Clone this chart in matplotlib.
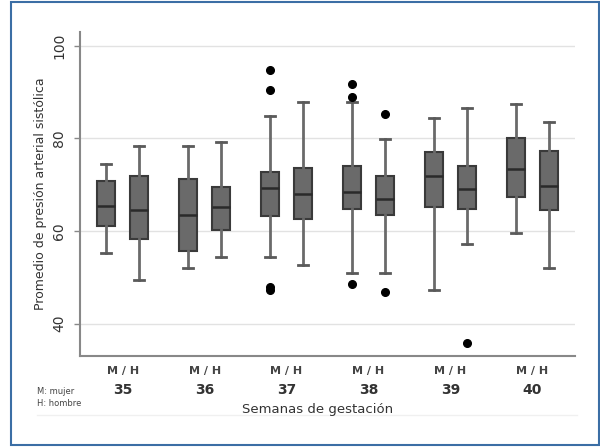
import matplotlib
matplotlib.use("Agg")
import matplotlib.pyplot as plt
from matplotlib.patches import Rectangle
from matplotlib.lines import Line2D

# ---- data ----
weeks = ["35", "36", "37", "38", "39", "40"]
sexes = ["M", "H"]
# order: 35M, 35H, 36M, 36H, ...
medians = [65.4, 64.6, 63.4, 65.1, 69.3, 67.9, 68.4, 67.0, 71.8, 69.0, 73.4, 69.7]
q1      = [61.0, 58.3, 55.6, 60.3, 63.2, 62.7, 64.7, 63.4, 65.1, 64.8, 67.4, 64.5]
q3      = [70.9, 71.8, 71.3, 69.5, 72.7, 73.6, 74.1, 71.9, 77.1, 74.1, 80.1, 77.3]
whislo  = [55.2, 49.5, 52.0, 54.4, 54.4, 52.7, 51.0, 50.9, 47.2, 57.1, 59.6, 52.0]
whishi  = [74.4, 78.4, 78.4, 79.3, 84.9, 87.9, 87.9, 79.8, 84.5, 86.6, 87.4, 83.6]
outliers = [[], [], [], [], [94.8, 90.5, 48.0, 47.3], [], [91.8, 88.9, 48.5],
            [85.2, 46.8], [], [35.8], [], []]
y_ticks = [40, 60, 80, 100]

fig = plt.figure(figsize=(6.0, 4.47), dpi=100)
ax = fig.add_axes([80/600, 1-356/447, (575-80)/600, (356-32)/447])

stats = []
positions = []
for i in range(len(medians)):
    g = i // 2
    off = -0.2 if i % 2 == 0 else 0.2
    positions.append(g + off)
    stats.append(dict(med=medians[i], q1=q1[i], q3=q3[i], whislo=whislo[i],
                      whishi=whishi[i], fliers=outliers[i]))

ax.bxp(stats, positions=positions, widths=0.22, showfliers=True, patch_artist=True,
       boxprops=dict(facecolor="#6a6a6a", edgecolor="#3a3a3a", linewidth=1.5),
       medianprops=dict(color="#2a2a2a", linewidth=1.8),
       whiskerprops=dict(color="#6a6a6a", linewidth=2.0),
       capprops=dict(color="#5a5a5a", linewidth=2.0),
       capwidths=0.12,
       flierprops=dict(marker="o", markerfacecolor="black", markeredgecolor="black",
                       markersize=5.5, linestyle="none"),
       zorder=3)

ax.set_xlim(-0.52, 5.52)
ax.set_ylim(33, 103)
ax.set_yticks(y_ticks)
ax.set_yticklabels([str(t) for t in y_ticks], rotation=90, va="center",
                   fontsize=10, color="#333333")
ax.tick_params(axis="y", direction="out", length=4, width=1, color="#888888", pad=6)
ax.set_xticks([])
for t in y_ticks:
    ax.axhline(t, color="#e2e2e2", linewidth=1.0, zorder=0)

for s in ["top", "right"]:
    ax.spines[s].set_visible(False)
for s in ["left", "bottom"]:
    ax.spines[s].set_color("#888888")
    ax.spines[s].set_linewidth(1.5)

ax.set_ylabel("Promedio de presión arterial sistólica", fontsize=9, color="#333333",
              labelpad=4)

# group labels
for g, w in enumerate(weeks):
    x = ax.transData.transform((g, 0))[0] / 600
    fig.text(x, 1-371/447, "M / H", ha="center", va="center", fontsize=8,
             color="#444444", fontweight="bold")
    fig.text(x, 1-390/447, w, ha="center", va="center", fontsize=10,
             color="#333333", fontweight="bold")

fig.text(37/600, 1-392/447, "M: mujer", ha="left", va="center", fontsize=6,
         color="#444444")
fig.text(37/600, 1-404/447, "H: hombre", ha="left", va="center", fontsize=6,
         color="#444444")
fig.text(318/600, 1-409/447, "Semanas de gestación", ha="center", va="center",
         fontsize=9.5, color="#333333")

fig.add_artist(Line2D([37/600, 577/600], [1-415/447, 1-415/447], color="#f0f0f0",
                      linewidth=1, transform=fig.transFigure))
fig.add_artist(Rectangle((11/600, 1-445/447), (599-11)/600, (445-2)/447,
                         fill=False, edgecolor="#3b6ea5", linewidth=1.5,
                         transform=fig.transFigure))

fig.savefig("out.png", dpi=100)
